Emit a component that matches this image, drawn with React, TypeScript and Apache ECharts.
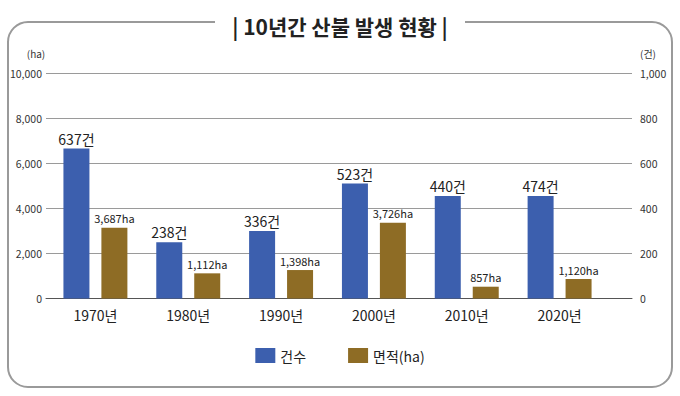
import React, { useEffect, useRef } from "react";
import * as echarts from "echarts";

const categories = ["1970년", "1980년", "1990년", "2000년", "2010년", "2020년"];
// bar heights as drawn in the picture
const countBars = [665, 250, 299, 510, 454, 454];
const areaBars = [3135, 1116, 1262, 3357, 523, 864];
// value labels as printed
const countLabels = ["637건", "238건", "336건", "523건", "440건", "474건"];
const areaLabels = ["3,687ha", "1,112ha", "1,398ha", "3,726ha", "857ha", "1,120ha"];
const leftTicks = [0, 2000, 4000, 6000, 8000, 10000];
const rightTicks = [0, 200, 400, 600, 800, 1000];

const FONT = "'Noto Sans CJK KR', 'Noto Sans', sans-serif";
const BLUE = "#3c5fae";
const BROWN = "#8e6c25";

export default function App() {
  const ref = useRef<HTMLDivElement>(null);
  useEffect(() => {
    if (!ref.current) return;
    const chart = echarts.init(ref.current, null, { renderer: "svg" });
    const fmtTick = (v: number) => v.toLocaleString("en-US");
    const lMin = leftTicks[0];
    const lMax = leftTicks[leftTicks.length - 1];
    const rMin = rightTicks[0];
    const rMax = rightTicks[rightTicks.length - 1];
    chart.setOption({
      animation: false,
      backgroundColor: "#fff",
      textStyle: { fontFamily: FONT },
      grid: [
        { left: 46, right: 48, top: 73, bottom: 97.5 },
        { left: 49, right: 74, top: 73, bottom: 97.5 },
      ],
      legend: {
        bottom: 28,
        left: "center",
        itemWidth: 20,
        itemHeight: 15,
        itemGap: 42,
        icon: "rect",
        textStyle: { fontSize: 14, color: "#222", fontFamily: FONT },
        data: ["건수", "면적(ha)"],
      },
      xAxis: [
        {
          gridIndex: 0,
          type: "value",
          min: 0,
          max: 1,
          axisTick: { show: false },
          axisLabel: { show: false },
          splitLine: { show: false },
          axisLine: { show: true, lineStyle: { color: "#555", width: 1 } },
        },
        {
          gridIndex: 1,
          type: "category",
          data: categories,
          axisTick: { show: false },
          axisLine: { show: false },
          axisLabel: { fontSize: 14, color: "#222", margin: 9, fontFamily: FONT },
        },
      ],
      yAxis: [
        {
          gridIndex: 0,
          type: "value",
          min: lMin,
          max: lMax,
          interval: leftTicks[1] - leftTicks[0],
          axisLine: { show: false },
          axisTick: { show: false },
          splitLine: { lineStyle: { color: "#9a9a9a", width: 1 } },
          axisLabel: { fontSize: 10.5, color: "#333", margin: 4, formatter: fmtTick, fontFamily: FONT },
        },
        {
          gridIndex: 0,
          type: "value",
          min: rMin,
          max: rMax,
          interval: rightTicks[1] - rightTicks[0],
          axisLine: { show: false },
          axisTick: { show: false },
          splitLine: { show: false },
          axisLabel: { fontSize: 10.5, color: "#333", margin: 8, formatter: fmtTick, fontFamily: FONT },
        },
        {
          gridIndex: 1,
          type: "value",
          min: lMin,
          max: lMax,
          show: false,
        },
        {
          gridIndex: 1,
          type: "value",
          min: rMin,
          max: rMax,
          show: false,
        },
      ],
      series: [
        {
          name: "건수",
          type: "bar",
          xAxisIndex: 1,
          yAxisIndex: 3,
          data: countBars,
          barWidth: 26,
          barGap: "46%",
          itemStyle: { color: BLUE },
          label: {
            show: true,
            position: "top",
            distance: 3,
            fontSize: 14,
            color: "#222",
            fontFamily: FONT,
            formatter: (p: any) => countLabels[p.dataIndex],
          },
        },
        {
          name: "면적(ha)",
          type: "bar",
          xAxisIndex: 1,
          yAxisIndex: 2,
          data: areaBars,
          barWidth: 26,
          itemStyle: { color: BROWN },
          label: {
            show: true,
            position: "top",
            distance: 4,
            fontSize: 11,
            color: "#222",
            fontFamily: FONT,
            formatter: (p: any) => areaLabels[p.dataIndex],
          },
        },
      ],
      graphic: [
        {
          type: "rect",
          shape: { x: 8, y: 22, width: 664, height: 365, r: 20 },
          style: { fill: "none", stroke: "#9a9a9a", lineWidth: 2 },
          silent: true,
        },
        {
          type: "rect",
          shape: { x: 215, y: 14, width: 250, height: 16 },
          style: { fill: "#fff" },
          silent: true,
        },
        {
          type: "text",
          x: 340,
          y: 26,
          style: {
            text: "| 10년간 산불 발생 현황 |",
            fontSize: 21,
            fontWeight: "bold",
            fill: "#222",
            align: "center",
            verticalAlign: "middle",
            fontFamily: FONT,
          },
        },
        {
          type: "text",
          x: 36,
          y: 53,
          style: { text: "(ha)", fontSize: 10, fill: "#333", align: "center", verticalAlign: "middle", fontFamily: FONT },
        },
        {
          type: "text",
          x: 648,
          y: 53,
          style: { text: "(건)", fontSize: 10, fill: "#333", align: "center", verticalAlign: "middle", fontFamily: FONT },
        },
      ],
    });
    return () => chart.dispose();
  }, []);
  return <div ref={ref} style={{ width: 680, height: 396, position: "absolute", left: 0, top: 0 }} />;
}
